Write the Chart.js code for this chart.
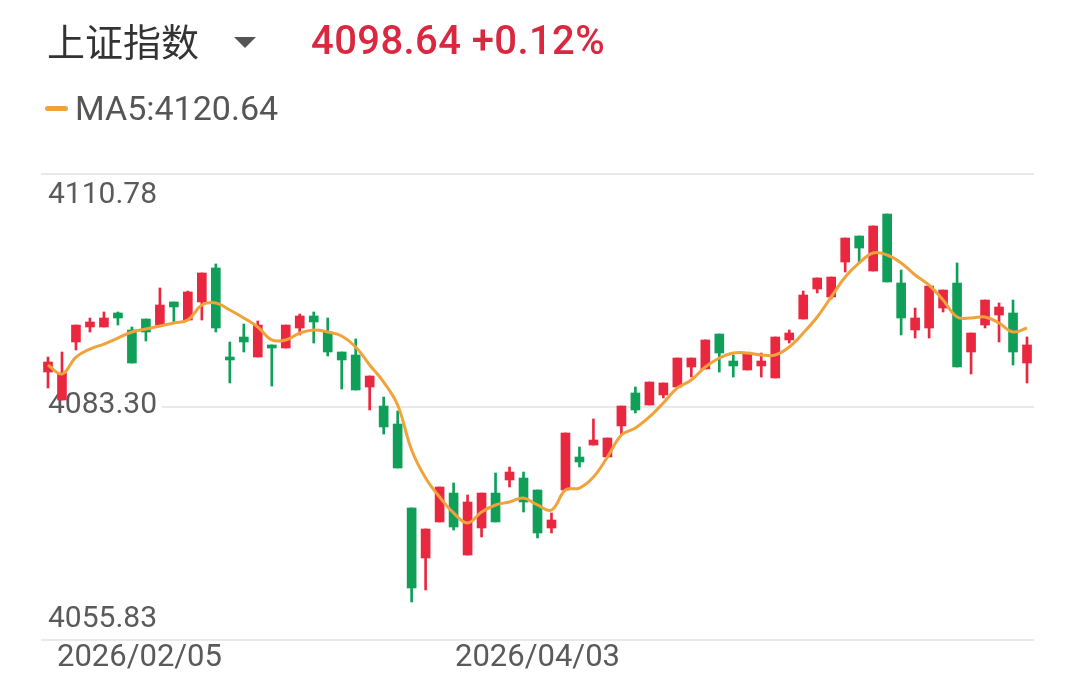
<!DOCTYPE html>
<html lang="zh-CN">
  <head>
    <meta charset="utf-8" />
    <meta name="viewport" content="width=device-width, initial-scale=1" />
    <title>上证指数 K线</title>
    <style>
      html,
      body {
        margin: 0;
        padding: 0;
        background: #ffffff;
        overflow: hidden;
      }

      .box {
        position: relative;
        width: 1080px;
        height: 700px;
        background: #ffffff;
      }

      canvas {
        position: absolute;
        left: 0;
        top: 0;
      }

      .title {
        position: absolute;
        left: 47px;
        top: 18px;
        font: 400 38px/44px "Noto Sans CJK SC", sans-serif;
        color: #333333;
        z-index: 2;
      }

      .caret {
        position: absolute;
        left: 234px;
        top: 37px;
        width: 0;
        height: 0;
        border-left: 11px solid transparent;
        border-right: 11px solid transparent;
        border-top: 11px solid #555555;
        z-index: 2;
      }

      .price {
        position: absolute;
        left: 311px;
        top: 18px;
        font: 500 40px/46px Roboto, sans-serif;
        letter-spacing: 0.4px;
        color: #d9283f;
        z-index: 2;
      }

      .legend {
        position: absolute;
        left: 45px;
        top: 89px;
        font: 400 34px/38px Roboto, sans-serif;
        color: #555555;
        z-index: 2;
      }

      .legend .dash {
        display: inline-block;
        width: 23px;
        height: 5px;
        border-radius: 3px;
        background: #f0a23b;
        vertical-align: middle;
        margin-right: 7px;
        position: relative;
        top: -3px;
      }
    </style>
  </head>
  <body>
    <div class="box">
      <div class="title" id="title"></div>
      <div class="caret"></div>
      <div class="price" id="price"></div>
      <div class="legend"><span class="dash"></span><span id="ma"></span></div>
      <canvas id="kline" width="1080" height="700"></canvas>
    </div>

    <script
      type="text/javascript"
      src="https://cdn.jsdelivr.net/npm/chart.js/dist/chart.umd.min.js"
    ></script>
    <script>
      // header
      const indexName = "上证指数";
      const lastPrice = "4098.64";
      const lastChange = "+0.12%";
      const maLegend = "MA5:4120.64";

      // trading days
      const dates = [
        "2026/02/05", "2026/02/06", "2026/02/09", "2026/02/10", "2026/02/11", "2026/02/12", "2026/02/13",
        "2026/02/24", "2026/02/25", "2026/02/26", "2026/02/27",
        "2026/03/02", "2026/03/03", "2026/03/04", "2026/03/05", "2026/03/06",
        "2026/03/09", "2026/03/10", "2026/03/11", "2026/03/12", "2026/03/13",
        "2026/03/16", "2026/03/17", "2026/03/18", "2026/03/19", "2026/03/20",
        "2026/03/23", "2026/03/24", "2026/03/25", "2026/03/26", "2026/03/27",
        "2026/03/30", "2026/03/31", "2026/04/01", "2026/04/02", "2026/04/03",
        "2026/04/07", "2026/04/08", "2026/04/09", "2026/04/10",
        "2026/04/13", "2026/04/14", "2026/04/15", "2026/04/16", "2026/04/17",
        "2026/04/20", "2026/04/21", "2026/04/22", "2026/04/23", "2026/04/24",
        "2026/04/27", "2026/04/28", "2026/04/29", "2026/04/30",
        "2026/05/06", "2026/05/07", "2026/05/08",
        "2026/05/11", "2026/05/12", "2026/05/13", "2026/05/14", "2026/05/15",
        "2026/05/18", "2026/05/19", "2026/05/20", "2026/05/21", "2026/05/22",
        "2026/05/25", "2026/05/26", "2026/05/27", "2026/05/28",
      ];

      const opens = [
        4087.43, 4084.13, 4090.97, 4092.74, 4092.74, 4094.39, 4092.39, 4093.68, 4092.97, 4095.69,
        4093.56, 4095.69, 4099.70, 4089.20, 4091.56, 4089.20, 4090.62, 4090.26, 4092.62, 4094.04,
        4092.15, 4089.79, 4089.44, 4085.66, 4083.42, 4081.30, 4071.40, 4065.50, 4069.75, 4073.16,
        4065.85, 4069.04, 4073.16, 4074.70, 4074.93, 4073.52, 4069.04, 4073.52, 4077.41, 4078.82,
        4077.41, 4081.07, 4084.96, 4083.54, 4084.72, 4085.66, 4088.02, 4087.79, 4091.91, 4088.73,
        4087.67, 4088.14, 4086.73, 4091.21, 4093.68, 4097.22, 4096.28, 4100.40, 4103.47, 4099.34,
        4106.06, 4097.93, 4092.39, 4092.62, 4094.98, 4097.93, 4089.79, 4092.97, 4094.15, 4094.39,
        4088.49,
      ];
      const closes = [
        4088.61, 4087.31, 4092.97, 4093.33, 4093.80, 4093.80, 4088.49, 4092.15, 4095.33, 4095.10,
        4096.87, 4099.11, 4092.62, 4088.85, 4090.97, 4092.97, 4090.26, 4092.97, 4094.04, 4093.33,
        4089.79, 4088.85, 4085.31, 4086.96, 4080.95, 4076.11, 4061.96, 4068.92, 4073.87, 4069.15,
        4072.10, 4073.16, 4069.75, 4075.64, 4072.10, 4068.45, 4069.98, 4080.24, 4076.82, 4079.41,
        4079.65, 4083.42, 4082.95, 4086.25, 4086.14, 4089.08, 4089.08, 4091.21, 4089.67, 4088.14,
        4089.67, 4088.73, 4091.56, 4092.03, 4096.51, 4098.52, 4098.63, 4103.23, 4102.05, 4104.65,
        4098.05, 4093.80, 4093.80, 4097.57, 4097.10, 4088.02, 4092.03, 4095.92, 4095.10, 4089.79,
        4090.62,
      ];
      const highs = [
        4089.20, 4089.79, 4092.97, 4093.80, 4094.51, 4094.51, 4092.74, 4093.68, 4097.34, 4095.69,
        4096.98, 4099.11, 4100.17, 4090.97, 4093.09, 4093.45, 4090.62, 4092.97, 4094.27, 4094.51,
        4093.80, 4089.79, 4091.32, 4086.96, 4084.48, 4082.83, 4071.40, 4068.92, 4073.87, 4074.34,
        4072.93, 4073.16, 4075.52, 4076.23, 4075.64, 4073.52, 4070.81, 4080.24, 4078.59, 4081.89,
        4079.65, 4083.42, 4085.66, 4086.25, 4086.14, 4089.08, 4089.08, 4091.21, 4091.91, 4089.44,
        4089.67, 4089.67, 4091.56, 4092.39, 4096.98, 4098.52, 4098.63, 4103.23, 4103.47, 4104.65,
        4106.06, 4099.46, 4094.98, 4097.57, 4097.10, 4100.29, 4092.03, 4095.92, 4095.57, 4095.92,
        4091.56,
      ];
      const lows = [
        4085.55, 4084.13, 4090.03, 4092.15, 4092.74, 4092.97, 4088.49, 4091.09, 4092.97, 4093.33,
        4093.56, 4093.56, 4092.15, 4086.14, 4089.79, 4089.20, 4085.78, 4090.26, 4091.80, 4090.85,
        4089.32, 4085.43, 4085.31, 4082.95, 4080.12, 4076.11, 4060.31, 4061.73, 4069.75, 4068.80,
        4065.85, 4067.98, 4069.75, 4073.87, 4070.92, 4067.86, 4068.45, 4073.52, 4076.23, 4078.82,
        4077.41, 4080.00, 4082.60, 4083.54, 4084.37, 4085.66, 4086.84, 4087.79, 4087.43, 4086.84,
        4087.67, 4086.84, 4086.73, 4090.85, 4093.68, 4096.75, 4096.04, 4099.22, 4100.29, 4099.34,
        4098.05, 4091.80, 4091.44, 4091.44, 4094.51, 4088.02, 4087.20, 4092.62, 4090.97, 4088.26,
        4086.14,
      ];
      const ma5 = [
        4088.26, 4087.20, 4089.20, 4090.14, 4090.73, 4091.44, 4092.15, 4092.50, 4092.86, 4093.21,
        4093.56, 4095.33, 4095.57, 4094.74, 4093.80, 4092.74, 4091.21, 4091.21, 4092.03, 4092.39,
        4092.15, 4091.68, 4090.38, 4088.26, 4086.25, 4083.54, 4078.23, 4074.93, 4072.69, 4070.81,
        4069.63, 4070.92, 4071.75, 4072.10, 4072.57, 4071.75, 4071.16, 4073.52, 4073.75, 4075.05,
        4077.41, 4080.00, 4080.83, 4082.13, 4083.78, 4085.55, 4086.49, 4088.02, 4089.08, 4089.67,
        4089.67, 4089.44, 4089.44, 4090.38, 4092.03, 4093.92, 4096.28, 4098.63, 4100.29, 4101.46,
        4101.23, 4100.29, 4098.87, 4097.69, 4095.92, 4093.92, 4093.80, 4093.92, 4093.21, 4092.15,
        4092.62,
      ];

      // axis labels
      const yTicks = [4110.78, 4083.3, 4055.83];
      const xTickLabels = ["2026/02/05", "2026/04/03"];

      const upColor = "#e9283f";
      const downColor = "#0f9f59";
      const maColor = "#f0a23b";

      document.getElementById("title").textContent = indexName;
      document.getElementById("price").textContent = lastPrice + " " + lastChange;
      document.getElementById("ma").textContent = maLegend;

      const candleColors = closes.map((c, i) => (c >= opens[i] ? upColor : downColor));

      // y labels sit inside the plot, x labels under it
      const axisText = {
        id: "axisText",
        beforeDatasetsDraw(chart) {
          const { ctx, chartArea, scales } = chart;
          ctx.save();
          ctx.font = "30px Roboto";
          ctx.textAlign = "left";
          ctx.textBaseline = "middle";
          yTicks.forEach((v, i) => {
            const py = scales.y.getPixelForValue(v);
            const text = v.toFixed(2);
            let ty = py - 2;
            if (i === 0) ty = py + 21;
            if (i === yTicks.length - 1) ty = py - 21;
            if (i > 0 && i < yTicks.length - 1) {
              const w = ctx.measureText(text).width;
              ctx.fillStyle = "#ffffff";
              ctx.fillRect(chartArea.left, py - 3, w + 12, 6);
            }
            ctx.fillStyle = "#5a5a5a";
            ctx.fillText(text, 48, ty);
          });
          ctx.restore();
        },
        afterDraw(chart) {
          const { ctx, chartArea, scales } = chart;
          ctx.save();
          ctx.font = "31px Roboto";
          ctx.fillStyle = "#5a5a5a";
          ctx.textBaseline = "middle";
          xTickLabels.forEach((d) => {
            const px = scales.x.getPixelForValue(dates.indexOf(d));
            const w = ctx.measureText(d).width;
            let left = px - w / 2;
            if (left < chartArea.left + 16) left = chartArea.left + 16;
            ctx.fillText(d, left, chartArea.bottom + 18);
          });
          ctx.restore();
        },
      };

      // setup
      const data = {
        labels: dates,
        datasets: [
          {
            type: "line",
            data: ma5,
            borderColor: maColor,
            borderWidth: 3,
            pointRadius: 0,
            tension: 0.4,
            order: 0,
          },
          {
            type: "bar",
            data: opens.map((o, i) => [o, closes[i]]),
            backgroundColor: candleColors,
            barThickness: 9,
            minBarLength: 3,
            grouped: false,
            order: 1,
          },
          {
            type: "bar",
            data: lows.map((l, i) => [l, highs[i]]),
            backgroundColor: candleColors,
            barThickness: 2,
            grouped: false,
            order: 2,
          },
        ],
      };

      // config
      const config = {
        type: "bar",
        data,
        options: {
          responsive: false,
          animation: false,
          devicePixelRatio: 1,
          layout: {
            padding: { left: 41, right: 46, top: 174, bottom: 60 },
          },
          scales: {
            x: {
              display: false,
              offset: true,
            },
            y: {
              min: 4055.83,
              max: 4110.78,
              afterBuildTicks: (scale) => {
                scale.ticks = yTicks.map((v) => ({ value: v }));
              },
              ticks: { display: false },
              border: { display: false },
              grid: {
                color: "#e9e9e9",
                lineWidth: 2,
                drawTicks: false,
              },
            },
          },
          plugins: {
            legend: { display: false },
            tooltip: { enabled: false },
          },
        },
        plugins: [axisText],
      };

      // render init block
      const klineChart = new Chart(document.getElementById("kline"), config);
    </script>
  </body>
</html>
